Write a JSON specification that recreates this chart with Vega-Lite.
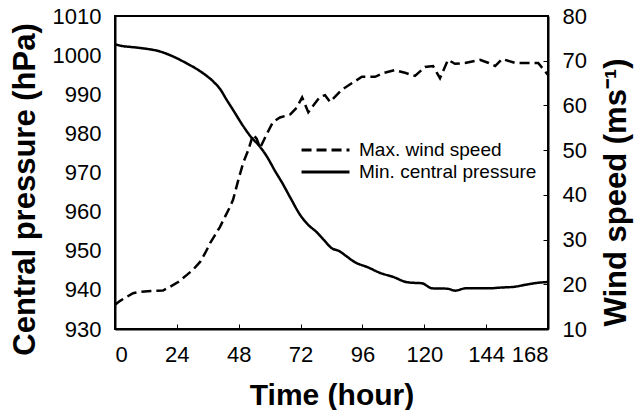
{
  "$schema": "https://vega.github.io/schema/vega-lite/v6.json",
  "width": 433,
  "height": 313,
  "autosize": "none",
  "padding": {"left": 115, "top": 16, "right": 87, "bottom": 81},
  "background": "white",
  "config": {
    "font": "Liberation Sans",
    "view": {"stroke": "black", "strokeWidth": 2},
    "axis": {
      "domainColor": "black",
      "domainWidth": 2,
      "tickColor": "black",
      "labelColor": "black",
      "titleColor": "black",
      "grid": false,
      "labelFont": "Liberation Sans",
      "titleFont": "Liberation Sans",
      "labelFontSize": 22,
      "titleFontSize": 31,
      "titleFontWeight": "bold",
      "format": "d"
    }
  },
  "datasets": {
    "pressure": [
      {"t": 0, "v": 1002.8}, {"t": 3, "v": 1002.3}, {"t": 6, "v": 1002.1}, {"t": 10, "v": 1001.8},
      {"t": 17.6, "v": 1000.9}, {"t": 22.7, "v": 999.6}, {"t": 27.8, "v": 997.9}, {"t": 33, "v": 995.9},
      {"t": 38.2, "v": 993.2}, {"t": 40.7, "v": 991.4}, {"t": 43.3, "v": 988.6}, {"t": 45.8, "v": 986.0},
      {"t": 50, "v": 981.6}, {"t": 53, "v": 978.9}, {"t": 56, "v": 976.8}, {"t": 59, "v": 974.0},
      {"t": 62, "v": 970.5}, {"t": 65, "v": 967.2}, {"t": 68, "v": 963.6}, {"t": 72, "v": 959.0},
      {"t": 75, "v": 956.6}, {"t": 78, "v": 954.9}, {"t": 81, "v": 952.8}, {"t": 84, "v": 950.7},
      {"t": 87, "v": 949.9}, {"t": 90, "v": 948.5}, {"t": 93, "v": 947.1}, {"t": 98, "v": 945.8},
      {"t": 103, "v": 944.3}, {"t": 108, "v": 943.3}, {"t": 113, "v": 942.0}, {"t": 116, "v": 941.8},
      {"t": 119, "v": 941.7}, {"t": 123, "v": 940.4}, {"t": 129, "v": 940.3}, {"t": 132, "v": 939.8},
      {"t": 136, "v": 940.4}, {"t": 140, "v": 940.4}, {"t": 145, "v": 940.4}, {"t": 150, "v": 940.6},
      {"t": 155, "v": 940.8}, {"t": 160, "v": 941.4}, {"t": 164, "v": 941.8}, {"t": 168, "v": 942.0}
    ],
    "wind": [
      {"t": 0, "v": 15.4}, {"t": 2, "v": 16.3}, {"t": 4.6, "v": 17.2}, {"t": 7, "v": 18.0},
      {"t": 9.7, "v": 18.3}, {"t": 14, "v": 18.5}, {"t": 18.6, "v": 18.6}, {"t": 21.3, "v": 19.4},
      {"t": 24.5, "v": 20.5}, {"t": 27.9, "v": 22.1}, {"t": 30.5, "v": 23.4}, {"t": 33, "v": 25.0},
      {"t": 35, "v": 27.0}, {"t": 36.9, "v": 29.2}, {"t": 38.8, "v": 31.0}, {"t": 40.7, "v": 32.8},
      {"t": 42.6, "v": 35.0}, {"t": 44.6, "v": 37.3}, {"t": 45.8, "v": 38.9}, {"t": 47.7, "v": 43.0},
      {"t": 49.7, "v": 47.1}, {"t": 51.7, "v": 50.0}, {"t": 53.6, "v": 53.5}, {"t": 55, "v": 52.5},
      {"t": 56.3, "v": 50.5}, {"t": 58.8, "v": 53.5}, {"t": 61.3, "v": 56.3}, {"t": 64, "v": 57.3},
      {"t": 68, "v": 58.0}, {"t": 70.5, "v": 59.5}, {"t": 72.6, "v": 61.8}, {"t": 75, "v": 58.5},
      {"t": 77.6, "v": 60.5}, {"t": 79.5, "v": 61.9}, {"t": 81.5, "v": 62.3}, {"t": 83.4, "v": 60.8},
      {"t": 88, "v": 63.5}, {"t": 92, "v": 65.0}, {"t": 95.8, "v": 66.4}, {"t": 100.9, "v": 66.4},
      {"t": 104.5, "v": 67.3}, {"t": 108.6, "v": 67.9}, {"t": 112.5, "v": 67.3}, {"t": 116.4, "v": 66.6},
      {"t": 120.3, "v": 68.6}, {"t": 123.4, "v": 68.8}, {"t": 126.1, "v": 66.1}, {"t": 129.2, "v": 70.2},
      {"t": 131.9, "v": 69.3}, {"t": 135.8, "v": 69.5}, {"t": 141.6, "v": 70.2}, {"t": 145, "v": 69.5},
      {"t": 147.5, "v": 68.8}, {"t": 150.2, "v": 70.4}, {"t": 155.2, "v": 69.5}, {"t": 160.3, "v": 69.5},
      {"t": 164.2, "v": 69.5}, {"t": 168, "v": 66.8}
    ]
  },
  "layer": [
    {
      "data": {"name": "pressure"},
      "transform": [{"calculate": "'Min. central pressure'", "as": "series"}],
      "mark": {"type": "line", "color": "black", "strokeWidth": 2.5, "interpolate": "monotone"},
      "encoding": {
        "x": {
          "field": "t", "type": "quantitative",
          "scale": {"domain": [0, 168], "nice": false},
          "axis": {"values": [0, 24, 48, 72, 96, 120, 144, 168], "title": "Time (hour)", "titleFontSize": 30, "tickSize": -5, "tickWidth": 1, "labelPadding": 20, "titlePadding": 15}
        },
        "y": {
          "field": "v", "type": "quantitative",
          "scale": {"domain": [930, 1010], "nice": false, "zero": false},
          "axis": {"orient": "left", "values": [930, 940, 950, 960, 970, 980, 990, 1000, 1010], "title": "Central pressure (hPa)", "ticks": false, "labelPadding": 14, "titlePadding": 11, "titleY": 173}
        },
        "strokeDash": {
          "field": "series", "type": "nominal",
          "scale": {"domain": ["Max. wind speed", "Min. central pressure"], "range": [[10, 5], [1, 0]]},
          "legend": {
            "title": null, "orient": "none", "legendX": 185, "legendY": 123,
            "symbolType": "stroke", "symbolSize": 2300, "symbolStrokeWidth": 3, "symbolStrokeColor": "black",
            "clipHeight": 22,
            "labelFontSize": 19, "labelFont": "Liberation Sans", "labelColor": "black", "labelLimit": 400,
            "rowPadding": 0, "labelOffset": 8
          }
        }
      }
    },
    {
      "data": {"name": "wind"},
      "transform": [{"calculate": "'Max. wind speed'", "as": "series"}],
      "mark": {"type": "line", "color": "black", "strokeWidth": 2.5},
      "encoding": {
        "x": {"field": "t", "type": "quantitative"},
        "y": {
          "field": "v", "type": "quantitative",
          "scale": {"domain": [10, 80], "nice": false, "zero": false},
          "axis": {"orient": "right", "values": [10, 20, 30, 40, 50, 60, 70, 80], "title": "Wind speed (ms⁻¹)", "titleAngle": -90, "titleBaseline": "top", "tickSize": -5, "tickWidth": 1, "labelPadding": 19, "titlePadding": 15, "titleY": 176}
        },
        "strokeDash": {"field": "series", "type": "nominal"}
      }
    }
  ],
  "resolve": {"scale": {"y": "independent"}}
}
